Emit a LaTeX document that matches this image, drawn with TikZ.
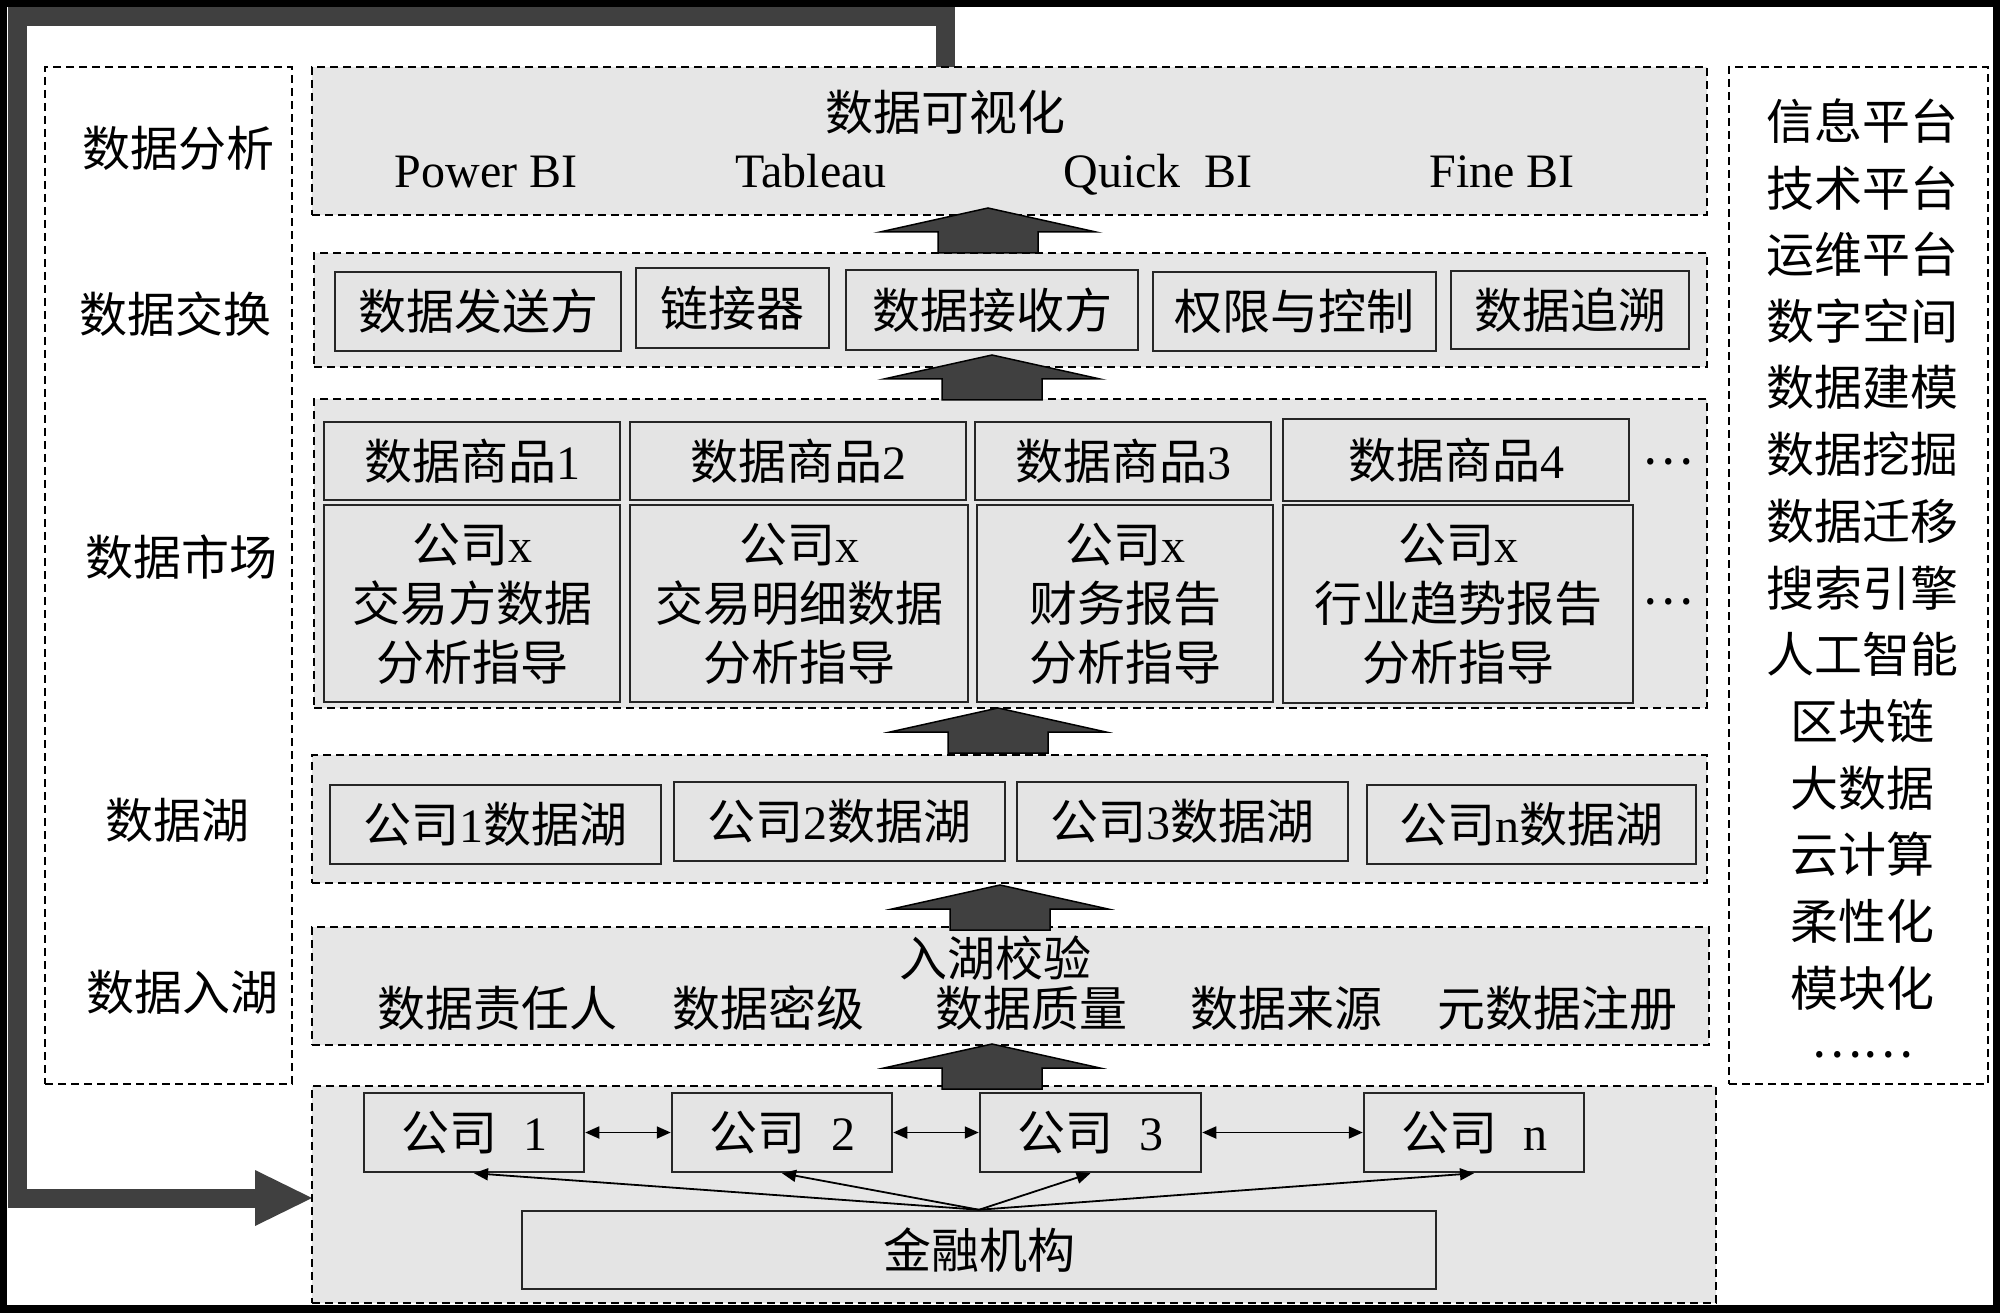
\documentclass[tikz,border=0pt]{standalone}
\usepackage{fontspec}
\setmainfont{Noto Sans CJK SC}
\newfontfamily\lat{Liberation Serif}
\usetikzlibrary{arrows.meta}
\definecolor{layerfill}{HTML}{E6E6E6}
\definecolor{boxfill}{HTML}{E4E4E4}
\definecolor{arrfill}{HTML}{404040}
\newcommand\tnr[1]{{\lat #1}}
\newcommand\upblock[3]{\draw[bigarr] ({#1-50},#2) -- ({#1-50},{#3+24}) -- ({#1-108},{#3+24}) -- (#1,#3) -- ({#1+108},{#3+24}) -- ({#1+50},{#3+24}) -- ({#1+50},#2) -- cycle;}
\begin{document}
\begin{tikzpicture}[x=1pt,y=-1pt,
  font=\fontsize{48}{59}\selectfont,
  lbl/.style={inner sep=0pt,align=center},
  layer/.style={draw,line width=2pt,dash pattern=on 8pt off 5pt,fill=layerfill,inner sep=0pt},
  side/.style={draw,line width=2pt,dash pattern=on 8pt off 5pt,fill=white,inner sep=0pt},
  ibox/.style={draw=black!85,line width=2.5pt,fill=boxfill,inner sep=0pt,align=center},
  bigarr/.style={fill=arrfill,draw=black,line width=1.5pt,line join=miter},
  link/.style={line width=1.8pt,-{Triangle[length=14pt,width=12pt]}},
  dlink/.style={line width=1.8pt,{Triangle[length=14pt,width=12pt]}-{Triangle[length=14pt,width=12pt]}},
  feedback/.style={draw=arrfill,line width=19pt,line cap=butt,line join=miter}]
% frame
\useasboundingbox (0,0) rectangle (2000,1313);
\fill[black] (0,0) rectangle (2000,1313);
\fill[white] (7,7) rectangle (1993,1305);
% feedback path
\coordinate (fbstart) at (945,67);
\coordinate (fbend) at (256,1198);
\draw[feedback] (fbstart) -- (945,17) -- (17,17) -- (17,1198) -- (fbend);
\fill[arrfill] (255,1170) -- (312,1198) -- (255,1226) -- cycle;
% side boxes
\node[side,minimum width=247pt,minimum height=1017pt] (left) at (168.5,575.5) {};
\node[side,minimum width=259pt,minimum height=1017pt] (right) at (1858.5,575.5) {};
% layers
\node[layer,minimum width=1395pt,minimum height=148pt] (L1) at (1009.5,141) {};
\node[layer,minimum width=1393pt,minimum height=114pt] (L2) at (1010.5,310) {};
\node[layer,minimum width=1393pt,minimum height=309pt] (L3) at (1010.5,553.5) {};
\node[layer,minimum width=1395pt,minimum height=128pt] (L4) at (1009.5,819) {};
\node[layer,minimum width=1397pt,minimum height=118pt] (L5) at (1010.5,986) {};
\node[layer,minimum width=1404pt,minimum height=217pt] (L6) at (1014,1194.5) {};
% left labels
\node[lbl] (la1) at (178,148) {数据分析};
\node[lbl] (la2) at (175,314) {数据交换};
\node[lbl] (la3) at (181,557) {数据市场};
\node[lbl] (la4) at (177,820) {数据湖};
\node[lbl] (la5) at (182,992) {数据入湖};
% right list
\foreach \t [count=\i from 0] in {信息平台,技术平台,运维平台,数字空间,数据建模,数据挖掘,数据迁移,搜索引擎,人工智能,区块链,大数据,云计算,柔性化,模块化}
  \node[lbl] (r\i) at (1862,{121+66.7*\i}) {\t};
\node[lbl] (rdots) at (1862,1055) {……};
% layer 1
\node[lbl] (vis) at (945,112) {数据可视化};
\node[lbl,anchor=base] (pbi) at (486,188) {\tnr{Power BI}};
\node[lbl,anchor=base] (tab) at (811,188) {\tnr{Tableau}};
\node[lbl,anchor=base] (qbi) at (1158,188) {\tnr{Quick\ \ BI}};
\node[lbl,anchor=base] (fbi) at (1502,188) {\tnr{Fine BI}};
% layer 2
\node[ibox,minimum width=286pt,minimum height=79pt] (send) at (478,311.5) {数据发送方};
\node[ibox,minimum width=193pt,minimum height=80pt] (conn) at (732.5,308) {链接器};
\node[ibox,minimum width=292pt,minimum height=80pt] (recv) at (992,310) {数据接收方};
\node[ibox,minimum width=283pt,minimum height=79pt] (perm) at (1294.5,311.5) {权限与控制};
\node[ibox,minimum width=238pt,minimum height=78pt] (trace) at (1570,310) {数据追溯};
% layer 3
\node[ibox,minimum width=296pt,minimum height=78pt] (g1) at (472,461) {数据商品\tnr{1}};
\node[ibox,minimum width=336pt,minimum height=78pt] (g2) at (798,461) {数据商品\tnr{2}};
\node[ibox,minimum width=296pt,minimum height=78pt] (g3) at (1123,461) {数据商品\tnr{3}};
\node[ibox,minimum width=346pt,minimum height=82pt] (g4) at (1456,460) {数据商品\tnr{4}};
\node[ibox,minimum width=296pt,minimum height=197pt] (d1) at (472,603.5) {公司\tnr{x}\\交易方数据\\分析指导};
\node[ibox,minimum width=338pt,minimum height=197pt] (d2) at (799,603.5) {公司\tnr{x}\\交易明细数据\\分析指导};
\node[ibox,minimum width=296pt,minimum height=197pt] (d3) at (1125,603.5) {公司\tnr{x}\\财务报告\\分析指导};
\node[ibox,minimum width=350pt,minimum height=198pt] (d4) at (1458,604) {公司\tnr{x}\\行业趋势报告\\分析指导};
\node[lbl] (gdots) at (1668,462) {…};
\node[lbl] (ddots) at (1668,602) {…};
% layer 4
\node[ibox,minimum width=331pt,minimum height=79pt] (k1) at (495.5,824.5) {公司\tnr{1}数据湖};
\node[ibox,minimum width=331pt,minimum height=79pt] (k2) at (839.5,821.5) {公司\tnr{2}数据湖};
\node[ibox,minimum width=331pt,minimum height=79pt] (k3) at (1182.5,821.5) {公司\tnr{3}数据湖};
\node[ibox,minimum width=329pt,minimum height=79pt] (k4) at (1531.5,824.5) {公司\tnr{n}数据湖};
% layer 5
\node[lbl] (chk) at (995,958) {入湖校验};
\node[lbl] (q1) at (497,1008) {数据责任人};
\node[lbl] (q2) at (768,1008) {数据密级};
\node[lbl] (q3) at (1031,1008) {数据质量};
\node[lbl] (q4) at (1286,1008) {数据来源};
\node[lbl] (q5) at (1557,1008) {元数据注册};
% layer 6
\node[ibox,minimum width=220pt,minimum height=79pt] (c1) at (474,1132.5) {公司\hspace{26pt}\tnr{1}};
\node[ibox,minimum width=220pt,minimum height=79pt] (c2) at (782,1132.5) {公司\hspace{26pt}\tnr{2}};
\node[ibox,minimum width=221pt,minimum height=79pt] (c3) at (1090.5,1132.5) {公司\hspace{26pt}\tnr{3}};
\node[ibox,minimum width=220pt,minimum height=79pt] (cn) at (1474,1132.5) {公司\hspace{26pt}\tnr{n}};
\node[ibox,minimum width=914pt,minimum height=78pt] (fin) at (979,1250) {金融机构};
\draw[dlink] (c1.east) -- (c2.west);
\draw[dlink] (c2.east) -- (c3.west);
\draw[dlink] (c3.east) -- (cn.west);
\foreach \c in {c1,c2,c3,cn} \draw[link] (fin.north) -- (\c.south);
% big up arrows
\upblock{988}{253}{208}
\upblock{992}{400}{355}
\upblock{998}{753}{708}
\upblock{1000}{930}{885}
\upblock{992}{1089}{1044}
\end{tikzpicture}
\end{document}
